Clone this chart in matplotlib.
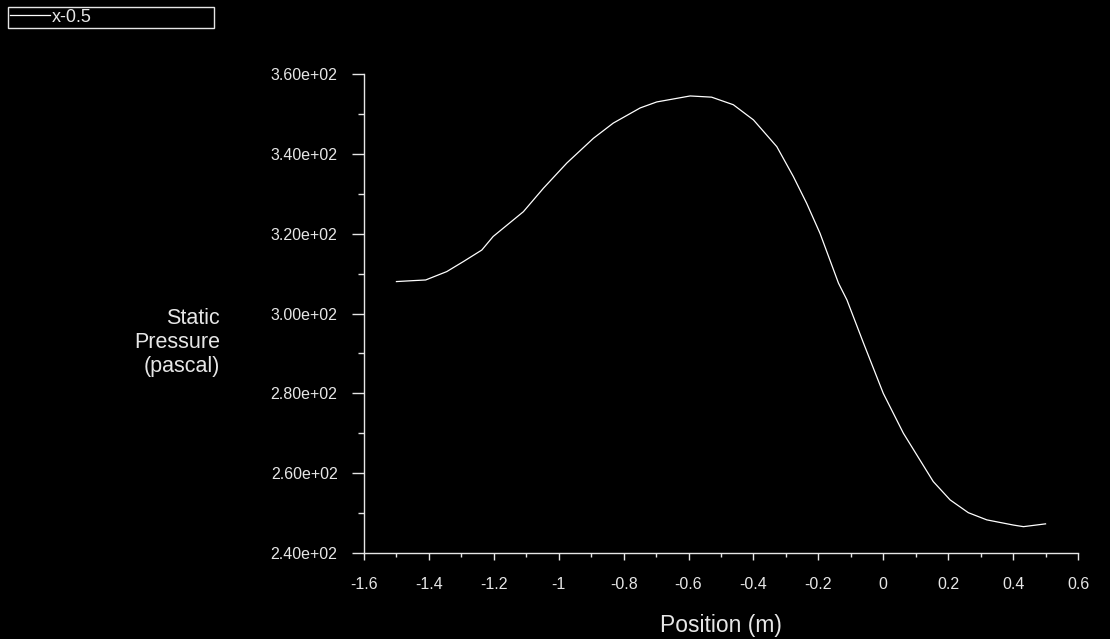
import matplotlib
matplotlib.use('Agg')
import matplotlib.pyplot as plt
from matplotlib.ticker import MultipleLocator

# -----------------------------
# DATA
# -----------------------------
position = [-1.50, -1.456, -1.41, -1.345, -1.294, -1.237, -1.202, -1.109, -1.047,
            -0.975, -0.893, -0.832, -0.749, -0.698, -0.595, -0.529, -0.462, -0.400,
            -0.328, -0.277, -0.236, -0.195, -0.138, -0.112, -0.061, 0.000, 0.062,
            0.154, 0.206, 0.262, 0.319, 0.401, 0.432, 0.50]
pressure = [308.0, 308.2, 308.4, 310.5, 313.0, 315.9, 319.3, 325.5, 331.4,
            337.7, 343.9, 347.7, 351.5, 353.0, 354.5, 354.2, 352.3, 348.5,
            341.8, 334.3, 327.6, 320.1, 307.6, 303.4, 292.6, 280.0, 270.0,
            257.9, 253.3, 250.1, 248.3, 247.0, 246.6, 247.3]
series_name = "x-0.5"
xticks = [-1.6, -1.4, -1.2, -1, -0.8, -0.6, -0.4, -0.2, 0, 0.2, 0.4, 0.6]
xticklabels = ["-1.6", "-1.4", "-1.2", "-1", "-0.8", "-0.6", "-0.4", "-0.2", "0", "0.2", "0.4", "0.6"]
yticks = [240, 260, 280, 300, 320, 340, 360]
yticklabels = ["%.2e" % v for v in yticks]

fg = "#e6e6e6"
font = ['Liberation Sans', 'DejaVu Sans']

fig = plt.figure(figsize=(11.1, 6.39), dpi=100, facecolor="black")
ax = fig.add_axes([364 / 1110, 1 - 553 / 639, 714 / 1110, 479 / 639])
ax.set_facecolor("black")

line, = ax.plot(position, pressure, color="white", lw=0.9, label=series_name)

ax.set_xlim(-1.6, 0.6)
ax.set_ylim(240, 360)
ax.set_xticks(xticks)
ax.set_xticklabels(xticklabels)
ax.set_yticks(yticks)
ax.set_yticklabels(yticklabels)
ax.xaxis.set_minor_locator(MultipleLocator(0.1))
ax.yaxis.set_minor_locator(MultipleLocator(10))

for s in ["top", "right"]:
    ax.spines[s].set_visible(False)
for s in ["left", "bottom"]:
    ax.spines[s].set_color(fg)
    ax.spines[s].set_linewidth(1.0)

# ticks
ax.tick_params(axis="y", which="major", length=9, width=1, color=fg, pad=10)
ax.tick_params(axis="y", which="minor", length=4.3, width=1, color=fg)
ax.tick_params(axis="x", which="major", length=5, width=1, color=fg, pad=12)
ax.tick_params(axis="x", which="minor", length=3, width=1, color=fg)
for lab in ax.get_xticklabels() + ax.get_yticklabels():
    lab.set_family(font)
    lab.set_fontsize(11.5)
    lab.set_color(fg)

ax.set_xlabel("Position (m)", color=fg, fontsize=16.5, family=font, labelpad=16)
ax.set_ylabel("Static\nPressure\n(pascal)", color=fg, fontsize=15.5, family=font,
              rotation=0, ha="right", va="center", multialignment="right")
ax.yaxis.set_label_coords(-0.2017, 0.44)

# legend box, top-left
leg = fig.legend(handles=[line], loc="upper left",
                 bbox_to_anchor=(8 / 1110, 1 - 26 / 639, 206 / 1110, 19 / 639),
                 mode="expand", borderaxespad=0, borderpad=0.1, handlelength=2.2,
                 handletextpad=0.1, fancybox=False, framealpha=1,
                 prop={"family": font, "size": 13})
leg.get_frame().set_facecolor("black")
leg.get_frame().set_edgecolor(fg)
leg.get_frame().set_linewidth(1.0)
for t in leg.get_texts():
    t.set_color(fg)

fig.savefig("out.png", dpi=100, facecolor="black")
